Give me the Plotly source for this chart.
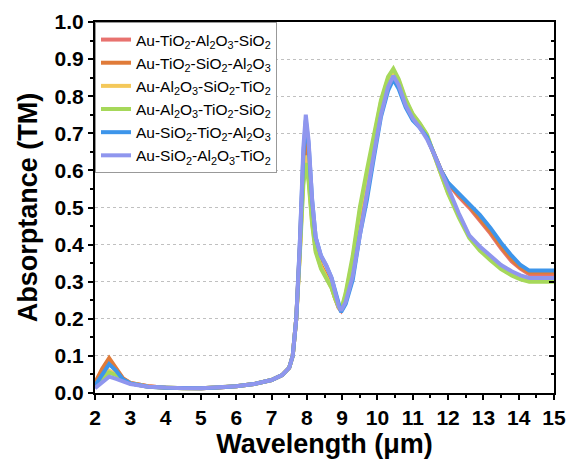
import plotly.graph_objects as go

wavelength = [2.0, 2.2, 2.4, 2.6, 2.8, 3.0, 3.5, 4.0, 4.5, 5.0, 5.5, 6.0, 6.5, 7.0, 7.3, 7.5, 7.6, 7.7, 7.8, 7.9,
              7.97, 8.05, 8.15, 8.25, 8.4, 8.55, 8.7, 8.8, 8.9, 8.97, 9.1, 9.3, 9.5, 9.7, 9.9, 10.1, 10.3, 10.45,
              10.6, 10.8, 11.0, 11.2, 11.4, 11.6, 11.8, 12.0, 12.3, 12.6, 12.9, 13.2, 13.5, 13.8, 14.05, 14.3, 15.0]

names = [
    "Au-TiO<sub>2</sub>-Al<sub>2</sub>O<sub>3</sub>-SiO<sub>2</sub>",
    "Au-TiO<sub>2</sub>-SiO<sub>2</sub>-Al<sub>2</sub>O<sub>3</sub>",
    "Au-Al<sub>2</sub>O<sub>3</sub>-SiO<sub>2</sub>-TiO<sub>2</sub>",
    "Au-Al<sub>2</sub>O<sub>3</sub>-TiO<sub>2</sub>-SiO<sub>2</sub>",
    "Au-SiO<sub>2</sub>-TiO<sub>2</sub>-Al<sub>2</sub>O<sub>3</sub>",
    "Au-SiO<sub>2</sub>-Al<sub>2</sub>O<sub>3</sub>-TiO<sub>2</sub>",
]
colors = ["#E8726F", "#E07B39", "#F4C85A", "#A6D85A", "#3D95EA", "#8F96EE"]

red = [0.025, 0.06, 0.088, 0.065, 0.038, 0.027, 0.018, 0.014, 0.013, 0.013, 0.015, 0.018, 0.024, 0.035, 0.048, 0.068,
       0.1, 0.2, 0.38, 0.6, 0.67, 0.6, 0.47, 0.39, 0.34, 0.31, 0.285, 0.255, 0.23, 0.222, 0.255, 0.335, 0.46,
       0.56, 0.665, 0.765, 0.835, 0.86, 0.835, 0.78, 0.745, 0.72, 0.69, 0.645, 0.6, 0.565, 0.53, 0.5, 0.465,
       0.43, 0.39, 0.355, 0.335, 0.32, 0.32]
orange = [0.027, 0.065, 0.094, 0.068, 0.039, 0.027, 0.018, 0.014, 0.013, 0.013, 0.015, 0.018, 0.024, 0.035, 0.048,
          0.068, 0.1, 0.2, 0.39, 0.62, 0.69, 0.62, 0.48, 0.395, 0.345, 0.315, 0.29, 0.258, 0.232, 0.222, 0.255,
          0.335, 0.46, 0.56, 0.665, 0.765, 0.835, 0.86, 0.835, 0.78, 0.745, 0.72, 0.69, 0.645, 0.6, 0.565, 0.535,
          0.505, 0.47, 0.435, 0.395, 0.36, 0.338, 0.325, 0.325]
yellow = [0.018, 0.042, 0.06, 0.05, 0.034, 0.026, 0.017, 0.014, 0.013, 0.013, 0.015, 0.018, 0.024, 0.035, 0.048,
          0.068, 0.1, 0.2, 0.38, 0.58, 0.64, 0.58, 0.46, 0.385, 0.34, 0.31, 0.285, 0.255, 0.232, 0.222, 0.265,
          0.36, 0.49, 0.59, 0.69, 0.785, 0.848, 0.868, 0.842, 0.788, 0.75, 0.725, 0.695, 0.64, 0.59, 0.54, 0.478,
          0.422, 0.388, 0.362, 0.338, 0.32, 0.309, 0.303, 0.303]
green = [0.017, 0.04, 0.055, 0.048, 0.034, 0.026, 0.017, 0.014, 0.013, 0.013, 0.015, 0.018, 0.024, 0.035, 0.048,
         0.068, 0.1, 0.2, 0.37, 0.56, 0.62, 0.57, 0.455, 0.38, 0.335, 0.308, 0.283, 0.255, 0.232, 0.223, 0.27,
         0.37, 0.5, 0.6, 0.7, 0.79, 0.852, 0.874, 0.846, 0.792, 0.752, 0.727, 0.697, 0.64, 0.59, 0.538, 0.474,
         0.418, 0.384, 0.358, 0.334, 0.317, 0.306, 0.3, 0.3]
blue = [0.02, 0.05, 0.078, 0.06, 0.036, 0.026, 0.017, 0.014, 0.013, 0.013, 0.015, 0.018, 0.024, 0.035, 0.048, 0.068,
        0.1, 0.2, 0.4, 0.64, 0.735, 0.67, 0.52, 0.42, 0.37, 0.343, 0.31, 0.272, 0.235, 0.218, 0.24, 0.305, 0.425,
        0.52, 0.635, 0.745, 0.815, 0.845, 0.82, 0.77, 0.735, 0.715, 0.69, 0.645, 0.6, 0.567, 0.537, 0.51, 0.48,
        0.445, 0.405, 0.37, 0.345, 0.33, 0.33]
purple = [0.013, 0.03, 0.044, 0.038, 0.03, 0.024, 0.017, 0.014, 0.013, 0.013, 0.015, 0.018, 0.024, 0.035, 0.048,
          0.068, 0.1, 0.2, 0.4, 0.66, 0.75, 0.68, 0.52, 0.42, 0.37, 0.345, 0.31, 0.27, 0.235, 0.222, 0.245, 0.315,
          0.43, 0.53, 0.645, 0.75, 0.825, 0.855, 0.83, 0.775, 0.74, 0.715, 0.685, 0.645, 0.6, 0.55, 0.485, 0.425,
          0.395, 0.37, 0.345, 0.328, 0.317, 0.31, 0.31]

series = [red, orange, yellow, green, blue, purple]

fig = go.Figure()
for nm, col, vals in zip(names, colors, series):
    fig.add_trace(go.Scatter(x=wavelength, y=vals, mode="lines", name=nm,
                             line=dict(color=col, width=4)))
fig.add_trace(go.Scatter(x=[], y=[], yaxis="y2", xaxis="x", showlegend=False, hoverinfo="skip"))

font_family = "Liberation Sans, Arial, sans-serif"
tickfont = dict(family=font_family, size=21, color="black", weight="bold")
titlefont = dict(family=font_family, size=27, color="black", weight="bold")

fig.update_layout(
    width=571, height=463,
    margin=dict(l=95, r=17, t=22, b=70),
    plot_bgcolor="white", paper_bgcolor="white",
    font=dict(family=font_family, color="black"),
    showlegend=True,
    legend=dict(x=0, y=1, xanchor="left", yanchor="top", bgcolor="white",
                bordercolor="#999999", borderwidth=1, font=dict(size=15.5, family=font_family),
                tracegroupgap=0, itemwidth=30),
    xaxis=dict(range=[2, 15], tickvals=list(range(2, 16)), ticks="outside", ticklen=5, tickwidth=2,
               tickcolor="black", showline=True, linecolor="black", linewidth=2, mirror=True,
               showgrid=False, zeroline=False, tickfont=tickfont, automargin=False,
               minor=dict(ticks="outside", ticklen=3, tickwidth=2, tickcolor="black", dtick=0.5, showgrid=False),
               title=dict(text="Wavelength (μm)", font=titlefont, standoff=4)),
    yaxis=dict(range=[0, 1], dtick=0.1, tickformat=".1f", ticks="outside", ticklen=5, tickwidth=2,
               tickcolor="black", showline=True, linecolor="black", linewidth=2, mirror=True,
               showgrid=True, gridcolor="#c0c0c0", griddash="dot", gridwidth=1, zeroline=False,
               tickfont=tickfont, automargin=False,
               minor=dict(ticks="outside", ticklen=3, tickwidth=2, tickcolor="black", dtick=0.05, showgrid=False),
               title=dict(text="Absorptance (TM)", font=titlefont, standoff=9)),
    yaxis2=dict(range=[0, 1], dtick=0.1, overlaying="y", side="right", anchor="x", ticks="inside",
                ticklen=5, tickwidth=2, tickcolor="black", showticklabels=False, showgrid=False,
                zeroline=False, showline=False, automargin=False,
                minor=dict(ticks="inside", ticklen=3, tickwidth=2, tickcolor="black", dtick=0.05)),
)

fig.write_html("out.html", config={"displayModeBar": False},
               post_script="document.body.style.margin='0';document.body.style.padding='0';")
